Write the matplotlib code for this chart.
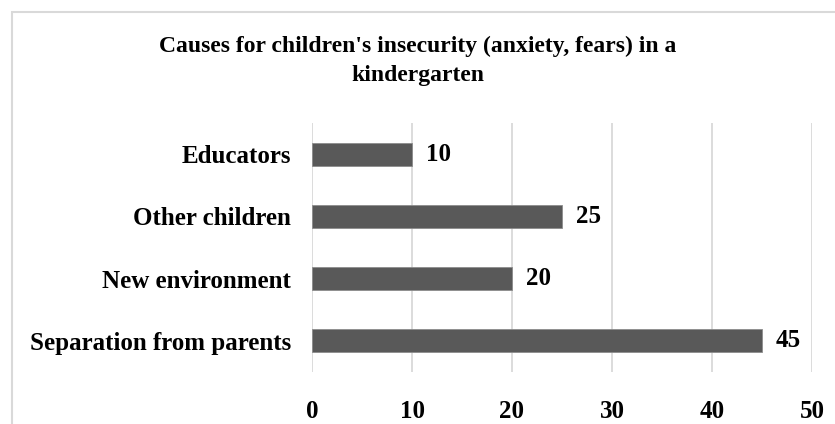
import matplotlib.pyplot as plt
from matplotlib.patches import Rectangle

categories = ["Separation from parents", "New environment", "Other children", "Educators"]
values = [45, 20, 25, 10]
xticks = [0, 10, 20, 30, 40, 50]
title = "Causes for children's insecurity (anxiety, fears) in a\nkindergarten"

plt.rcParams["font.family"] = ["Liberation Serif", "DejaVu Serif"]
plt.rcParams["font.weight"] = "bold"

fig = plt.figure(figsize=(8.35, 4.24), dpi=100)
# outer chart border
fig.patches.append(Rectangle((12 / 835, -0.1), 1.2, 1 - 12 / 424 + 0.1,
                             transform=fig.transFigure, fill=False,
                             ec="#d9d9d9", lw=1.5))

ax = fig.add_axes([312 / 835, 1 - 372 / 424, 500 / 835, 249 / 424])
ypos = range(len(categories))
ax.barh(ypos, values, height=0.37, color="#595959", edgecolor="#8c8c8c", lw=0.6, zorder=3)
for y, v in zip(ypos, values):
    ax.text(v + 1.4, y, str(v), va="center", ha="left", fontsize=18, fontweight="bold")

ax.set_xlim(0, 50)
ax.set_ylim(-0.5, len(categories) - 0.5)
ax.set_xticks(xticks)
ax.set_yticks(list(ypos))
ax.set_yticklabels(categories)
ax.tick_params(axis="both", length=0, labelsize=18)
ax.tick_params(axis="x", pad=20)
ax.tick_params(axis="y", pad=15)
ax.grid(axis="x", color="#d9d9d9", lw=1.3, zorder=0)
for s in ax.spines.values():
    s.set_visible(False)

fig.text(418 / 835, 1 - 61 / 424, title, ha="center", va="center",
         fontsize=17, fontweight="bold", linespacing=1.55)

fig.savefig("out.png", dpi=100)
